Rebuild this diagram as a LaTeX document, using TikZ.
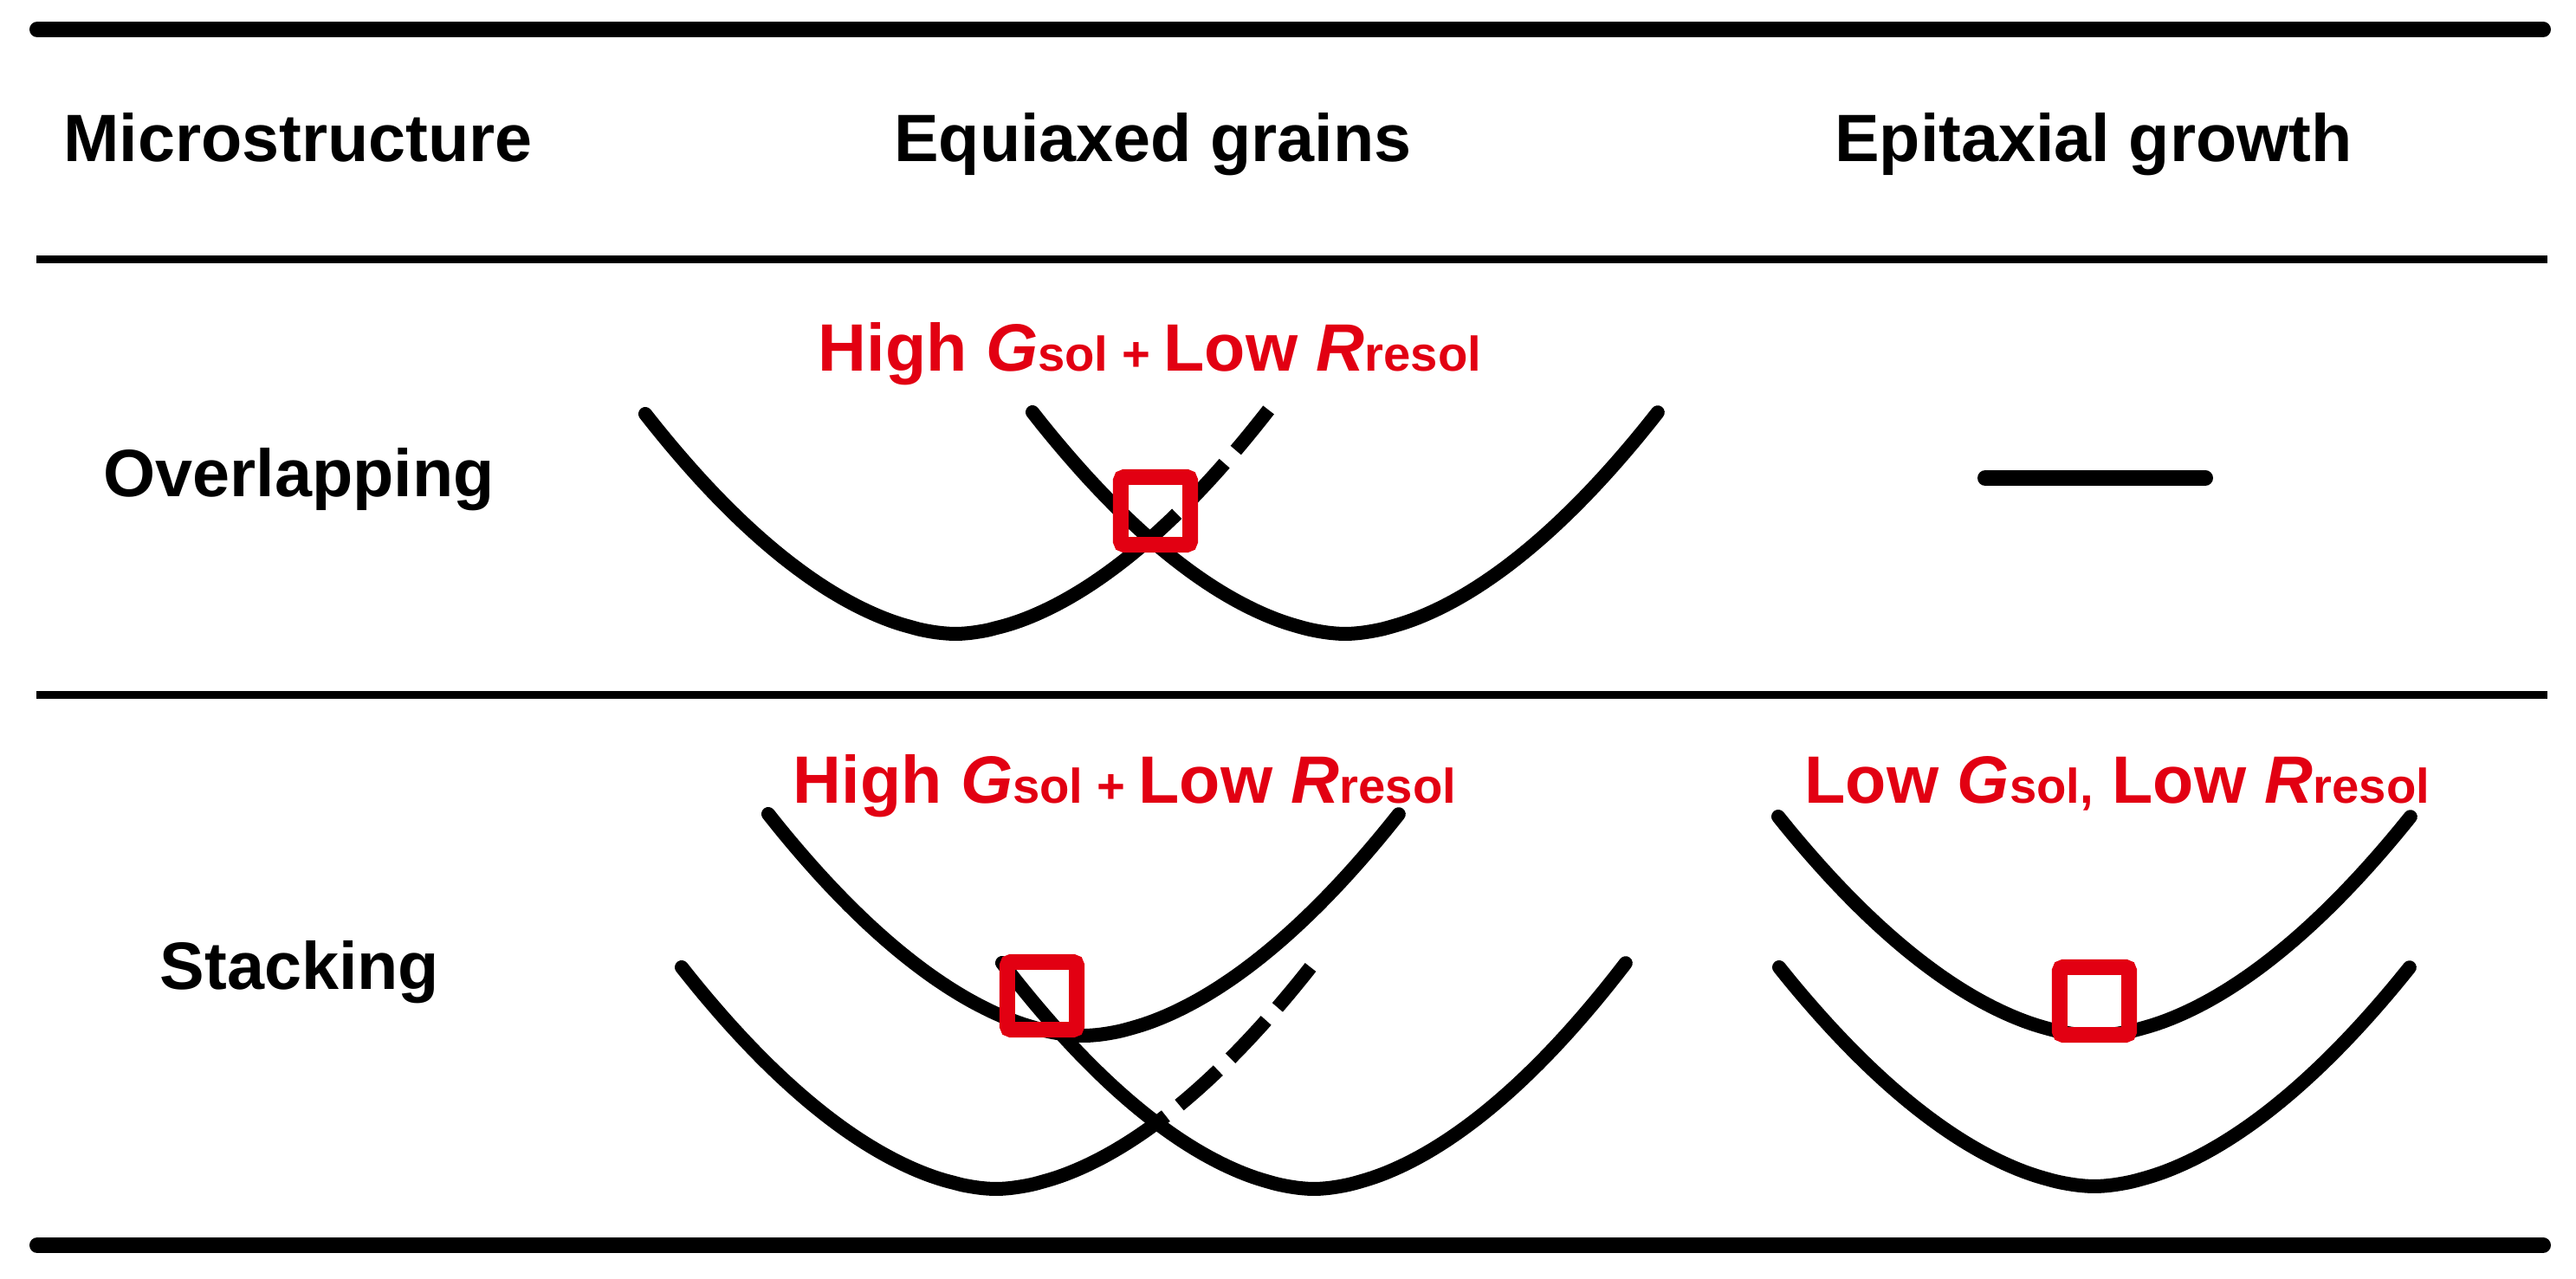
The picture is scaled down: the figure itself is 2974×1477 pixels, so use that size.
\documentclass[tikz,border=0pt]{standalone}
\usepackage{fontspec}
\setmainfont{Liberation Sans}
\definecolor{myred}{RGB}{226,0,18}
\newcommand\sm[1]{{\fontsize{16}{19}\selectfont #1}}
\newcommand\vcurve[7][]{\draw[curve,#1] plot[domain=#6:#7,samples=60,smooth,variable=\t] ({#2+#4*\t},{#3-#5*cup(\t)});}
\begin{document}
\begin{tikzpicture}[x=0.01cm,y=-0.01cm,
  declare function={cup(\q)=max(abs(\q),0.001)^1.8;},
  thickrule/.style={line width=0.18cm,line cap=round},
  thinrule/.style={line width=0.09cm},
  curve/.style={line width=0.16cm,line cap=round},
  dcurve/.style={line width=0.16cm,line cap=butt,dash pattern=on 0.6cm off 0.2cm},
  sq/.style={draw=myred,line width=0.18cm,rounded corners=0.04cm,minimum width=0.8cm,minimum height=0.78cm,inner sep=0pt},
  hdr/.style={font=\bfseries\fontsize{22}{26}\selectfont,anchor=base,inner sep=0pt},
  lab/.style={text=myred,font=\bfseries\fontsize{22}{26}\selectfont,anchor=base west,inner sep=0pt}]
\useasboundingbox (0,0) rectangle (2974,1477);

% rules
\draw[thickrule] (43,34) -- (2936,34);
\draw[thinrule] (42,300) -- (2941,300);
\draw[thinrule] (42,803) -- (2941,803);
\draw[thickrule] (43,1438) -- (2936,1438);

% headers
\node[hdr] (h1) at (344,187) {Microstructure};
\node[hdr] (h2) at (1331,187) {Equiaxed grains};
\node[hdr] (h3) at (2417,187) {Epitaxial growth};
\node[hdr] (r1) at (345,574) {Overlapping};
\node[hdr] (r2) at (346,1143) {Stacking};

% red labels
\node[lab] (l1) at (944,429) {High \textit{G}\sm{sol + }Low \textit{R}\sm{resol}};
\node[lab] (l2) at (915,928) {High \textit{G}\sm{sol + }Low \textit{R}\sm{resol}};
\node[lab] (l3) at (2083,928) {Low \textit{G}\sm{sol,} Low \textit{R}\sm{resol}};

% row 1, equiaxed
\vcurve{1103}{732}{358}{254}{-1}{0.628}
\vcurve[dcurve]{1103}{732}{358}{254}{1.01}{0.628}
\vcurve{1553}{732}{361}{256}{-1}{1}
\node[sq] (s1) at (1334,590) {};

% row 1, epitaxial
\draw[curve,line width=0.18cm] (2292,552) -- (2546,552);

% row 2, equiaxed
\vcurve{1251}{1196}{364}{256}{-1}{1}
\vcurve{1150}{1373}{363}{256}{-1}{0.505}
\vcurve[dcurve]{1150}{1373}{363}{256}{1}{0.505}
\vcurve{1517}{1373}{360}{261}{-1}{1}
\node[sq] (s2) at (1203,1150) {};

% row 2, epitaxial
\vcurve{2418}{1196}{365}{253}{-1}{1}
\vcurve{2418}{1370}{364}{253}{-1}{1}
\node[sq] (s3) at (2418,1156) {};
\end{tikzpicture}
\end{document}
